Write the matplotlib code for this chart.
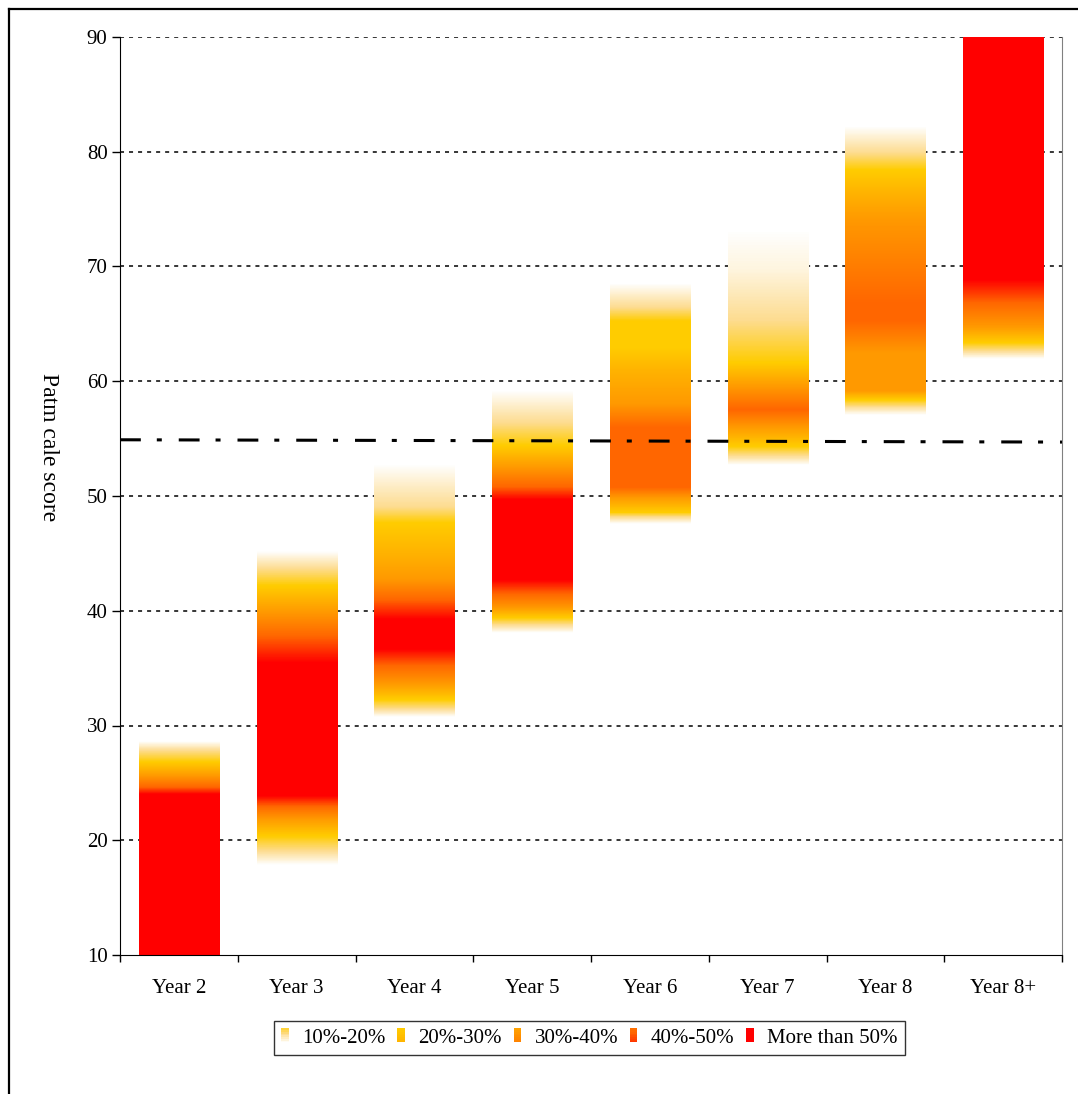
import numpy as np
import matplotlib.pyplot as plt
from matplotlib.colors import LinearSegmentedColormap, Normalize
from matplotlib.patches import Rectangle
from matplotlib.legend_handler import HandlerBase
from matplotlib.lines import Line2D

plt.rcParams['font.family'] = ['Liberation Serif', 'DejaVu Serif']
plt.rcParams['lines.scale_dashes'] = False

years = ['Year 2', 'Year 3', 'Year 4', 'Year 5', 'Year 6', 'Year 7', 'Year 8', 'Year 8+']

# share of pupils (%) at each score, listed as (score, percent) stops per year
year2 = [(10, 55), (24.0, 55), (24.6, 45), (25.6, 35), (26.8, 25), (27.8, 15), (28.6, 5)]
year3 = [(17.8, 5), (19.0, 15), (20.3, 25), (21.8, 35), (22.9, 45), (23.8, 55),
         (35.4, 55), (37.7, 45), (39.8, 35), (42.1, 25), (43.6, 15), (45.1, 5)]
year4 = [(30.7, 5), (31.4, 15), (32.2, 25), (33.6, 35), (35.2, 45), (36.6, 55),
         (39.2, 55), (40.9, 45), (42.7, 35), (45.0, 30), (47.6, 25), (49.0, 15), (52.7, 5)]
year5 = [(38.1, 5), (38.8, 15), (39.4, 25), (40.3, 35), (41.5, 45), (42.7, 55),
         (49.7, 55), (50.8, 45), (52.5, 35), (54.4, 25), (56.4, 15), (59.2, 5)]
year6 = [(47.6, 5), (48.2, 15), (48.6, 25), (49.9, 35), (50.8, 45), (56.0, 45),
         (58.1, 35), (61.0, 30), (63.0, 25), (65.3, 25), (66.5, 15), (68.6, 5)]
year7 = [(52.7, 5), (53.5, 15), (54.3, 25), (56.0, 35), (57.5, 45), (59.5, 35),
         (61.6, 25), (65.3, 15), (69.7, 8), (73.2, 5)]
year8 = [(57.1, 5), (57.8, 15), (58.4, 25), (59.2, 35), (62.5, 35), (65.3, 45),
         (66.8, 45), (74.1, 35), (76.4, 30), (78.4, 25), (79.9, 15), (82.2, 5)]
year8plus = [(61.9, 5), (62.6, 15), (63.3, 25), (64.7, 35), (66.8, 45), (68.8, 55), (90, 55)]
profiles = [year2, year3, year4, year5, year6, year7, year8, year8plus]

# expected standard line, left end and right end
benchmark = [54.9, 54.7]

legend_labels = ['10%-20%', '20%-30%', '30%-40%', '40%-50%', 'More than 50%']
legend_ranges = [(22, 5), (25, 30), (33, 40), (43, 50), (55, 55)]

cmap = LinearSegmentedColormap.from_list('heat', [
    (0.0, '#FFFFFF'), (0.2, '#FDDC90'), (0.4, '#FFCC00'),
    (0.6, '#FF9900'), (0.8, '#FF6600'), (1.0, '#FF0000')])
norm = Normalize(vmin=5, vmax=55)

fig = plt.figure(figsize=(10.78, 10.94), dpi=100)
ax = fig.add_axes([120/1078, 1-955/1094, 942/1078, 918/1094])

bar_w = 0.68
for i, prof in enumerate(profiles):
    vals = [p[0] for p in prof]
    pcts = [p[1] for p in prof]
    ys = np.linspace(vals[0], vals[-1], 800)
    col = cmap(norm(np.interp(ys, vals, pcts)))[:, None, :]
    ax.imshow(col, origin='lower', aspect='auto', interpolation='nearest',
              extent=(i - bar_w/2, i + bar_w/2, vals[0], vals[-1]), zorder=2)

ax.plot([-0.5, 7.5], benchmark, color='black', lw=2.2,
        dashes=(15, 11.5, 3.6, 12.2), zorder=4)

ax.set_xlim(-0.5, 7.5)
ax.set_ylim(10, 90)
ax.set_yticks(range(10, 91, 10))
ax.set_xticks(np.arange(-0.5, 7.6, 1))
ax.set_xticklabels([])
ax.set_xticks(range(len(years)), minor=True)
ax.set_xticklabels(years, minor=True)
ax.tick_params(axis='x', which='minor', length=0, pad=17, labelsize=15)
ax.tick_params(axis='x', which='major', length=5, width=1)
ax.tick_params(axis='y', length=6, width=1, pad=3, labelsize=15)
ax.grid(axis='y', color='black', lw=1.1, linestyle=(0, (2.9, 3.6)), zorder=1)
ax.yaxis.get_gridlines()[0].set_visible(False)
ax.set_axisbelow(True)

ax.spines['top'].set_visible(False)
ax.spines['right'].set_color('#808080')
for s in ['left', 'bottom']:
    ax.spines[s].set_color('black')

fig.text(48/1078, 1-447/1094, 'Patm cale score', rotation=270,
         ha='center', va='center', fontsize=17)


class GradientHandler(HandlerBase):
    def __init__(self, lo, hi):
        super().__init__()
        self.lo, self.hi = lo, hi

    def create_artists(self, legend, orig_handle, xdescent, ydescent,
                       width, height, fontsize, trans):
        n = 8
        out = []
        for k in range(n):
            p = self.lo + (self.hi - self.lo) * (k + 0.5) / n
            r = Rectangle((-xdescent, -ydescent + height * (n - 1 - k) / n),
                          width, height / n, facecolor=cmap(norm(p)),
                          edgecolor='none', transform=trans)
            out.append(r)
        return out


handles = [Rectangle((0, 0), 1, 1) for _ in legend_labels]
hmap = {h: GradientHandler(*r) for h, r in zip(handles, legend_ranges)}
leg = fig.legend(handles, legend_labels, handler_map=hmap, loc='center',
                 bbox_to_anchor=(589.5/1078, 1-1038/1094), ncol=5,
                 fontsize=15, frameon=True, fancybox=False,
                 handlelength=0.36, handleheight=0.67, handletextpad=0.65,
                 columnspacing=0.56, borderpad=0.35)
leg.get_frame().set_edgecolor('black')
leg.get_frame().set_linewidth(1.0)

# outer frame of the chart area
fig.add_artist(Line2D([9/1078, 1], [1-9/1094, 1-9/1094], color='black', lw=1.6))
fig.add_artist(Line2D([9/1078, 9/1078], [0, 1-9/1094], color='black', lw=1.6))

fig.savefig('out.png', dpi=100)
